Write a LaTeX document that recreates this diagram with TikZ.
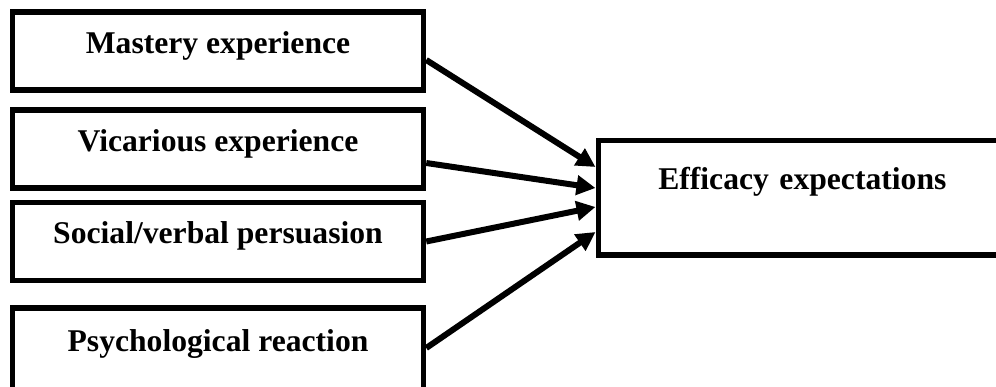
\documentclass[tikz,border=0pt]{standalone}
\usepackage{fontspec}
\setmainfont{Liberation Serif}
\usepackage{xcolor}
\usepackage{tikz}
\usetikzlibrary{arrows.meta}

\begin{document}
\begin{tikzpicture}
\tikzstyle{source} = [font=\bfseries\fontsize{18}{22}\selectfont,draw,line width=0.11cm,minimum width=8.22cm,minimum height=1.56cm,inner sep=0,text height=0.7em,text depth=0.45em];
\tikzstyle{target} = [font=\bfseries\fontsize{18}{22}\selectfont,draw,line width=0.11cm,minimum height=2.29cm,inner xsep=1.2cm,inner ysep=0,text width=6.1cm,align=left,text height=0.7em,text depth=1.65em,anchor=west];
\tikzstyle{arrow} = [line width=0.12cm,-{Triangle[length=0.38cm,width=0.38cm]}];
\clip (0,0) rectangle (19.92,7.74);
\node [source] (mastery) at (4.36,6.72) {Mastery experience};
\node [source] (vicarious) at (4.36,4.76) {Vicarious experience};
\node [source] (persuasion) at (4.36,2.91) {Social/verbal persuasion};
\node [source,minimum height=1.7cm,text depth=0.6em] (reaction) at (4.36,0.73) {Psychological reaction};
\node [target] (efficacy) at (11.91,3.78) {Efficacy expectations};
\draw [arrow] ([yshift=-0.18cm]mastery.east) -- ([yshift=0.62cm]efficacy.west);
\draw [arrow] ([yshift=-0.28cm]vicarious.east) -- ([yshift=0.2cm]efficacy.west);
\draw [arrow] (persuasion.east) -- ([yshift=-0.18cm]efficacy.west);
\draw [arrow] ([yshift=0.05cm]reaction.east) -- ([yshift=-0.68cm]efficacy.west);
\end{tikzpicture}
\end{document}
